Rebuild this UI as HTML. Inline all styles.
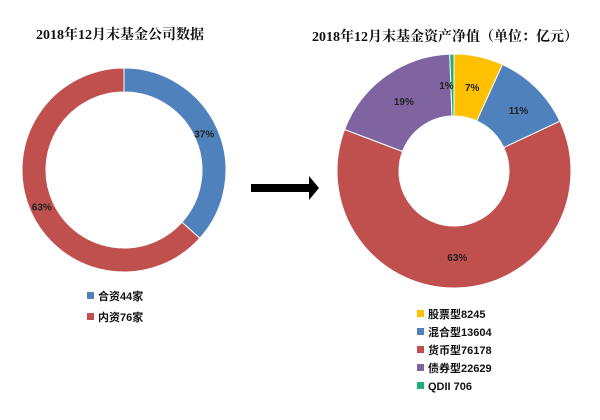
<!DOCTYPE html>
<html><head><meta charset="utf-8">
<style>
body{margin:0;background:#fff;width:600px;height:420px;overflow:hidden;font-family:"Liberation Sans","Noto Sans CJK SC",sans-serif}
svg{display:block}
.t{font-family:"Liberation Serif","Noto Serif CJK SC",serif;font-weight:bold;font-size:14px;fill:#111}
.lb{font-size:10px;font-weight:bold;fill:#222}
.lg{font-size:11px;font-weight:bold;fill:#111}
</style></head><body>
<svg id="c" width="600" height="420">
<text class="t" x="120" y="39" text-anchor="middle">2018年12月末基金公司数据</text>
<text class="t" x="445" y="41" text-anchor="middle">2018年12月末基金资产净值（单位：亿元）</text>
<path d="M251 184 h58 v-8 l10 12 l-10 12 v-8 h-58 z" fill="#000"/>
</svg>
<script>
const leftCats=["合资44家","内资76家"];
const leftVals=[44,76];
const leftColors=["#4f81bd","#c0504d"];
const rightCats=["股票型8245","混合型13604","货币型76178","债券型22629","QDII 706"];
const rightVals=[8245,13604,76178,22629,706];
const rightColors=["#ffc000","#4f81bd","#c0504d","#8064a2","#1fb07a"];
const NS="http://www.w3.org/2000/svg";
const svg=document.getElementById('c');
function mk(t,a){const e=document.createElementNS(NS,t);for(const k in a)e.setAttribute(k,a[k]);svg.appendChild(e);return e;}
function pt(cx,cy,r,a){return [cx+r*Math.sin(a),cy-r*Math.cos(a)];}
function donut(vals,colors,cx,cy,ro,ri,prefix,labR,lblOff){
  const tot=vals.reduce((a,b)=>a+b,0);let a0=0;
  vals.forEach((v,i)=>{
    const a1=a0+v/tot*2*Math.PI;const lg=(a1-a0)>Math.PI?1:0;
    const p1=pt(cx,cy,ro,a0),p2=pt(cx,cy,ro,a1),p3=pt(cx,cy,ri,a1),p4=pt(cx,cy,ri,a0);
    const p=mk('path',{d:`M${p1} A${ro} ${ro} 0 ${lg} 1 ${p2} L${p3} A${ri} ${ri} 0 ${lg} 0 ${p4} Z`,fill:colors[i],stroke:'#fff','stroke-width':1});
    
    
    const m=(a0+a1)/2;const o=(lblOff&&lblOff[i])||[0,0];const lp=pt(cx,cy,labR,m);
    const t=mk('text',{x:lp[0]+o[0],y:lp[1]+4+o[1],'text-anchor':'middle',class:'lb'});
    t.textContent=Math.round(v/tot*100)+'%';
    
    
    a0=a1;});
}
donut(leftVals,leftColors,124,170,102,78,'left',90,[[-2,0],[0,0]]);
donut(rightVals,rightColors,454,171,117,55,'right',86,[[0,0],[4,0],[0,0],[0,0],[-6,0]]);
function legend(cats,colors,x,y,step,prefix){
  cats.forEach((c,i)=>{
    const r=mk('rect',{x:x,y:y+i*step-7,width:7,height:7,fill:colors[i]});
    
    
    const t=mk('text',{x:x+11,y:y+i*step+1,class:'lg'});t.textContent=c;
    
    
  });
}
legend(leftCats,leftColors,87,299,21,'left');
legend(rightCats,rightColors,417,317,18,'right');
</script>
</body></html>
